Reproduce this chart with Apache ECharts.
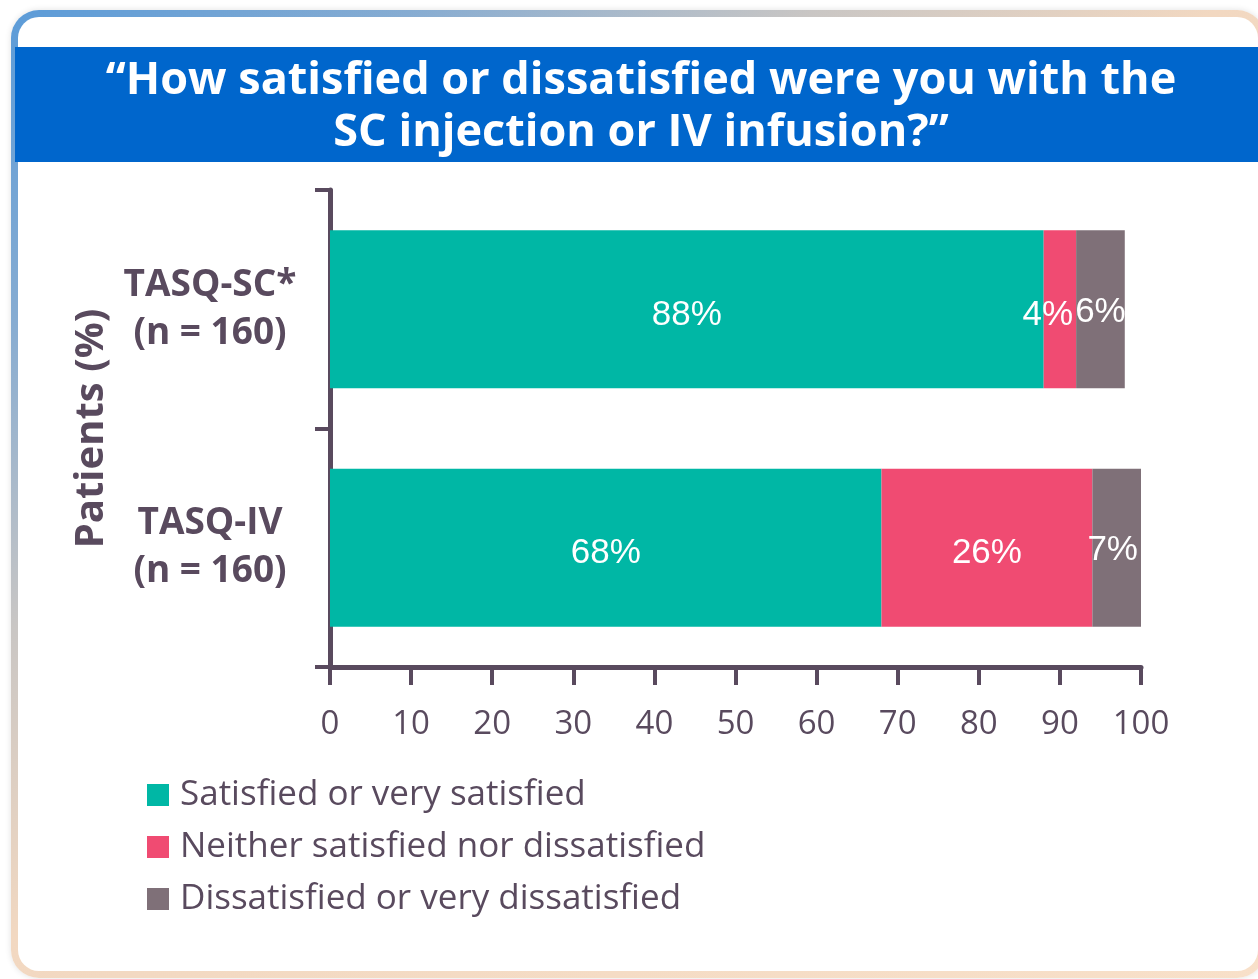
<!DOCTYPE html>
<html>
<head>
<meta charset="utf-8">
<script src="https://cdn.jsdelivr.net/npm/echarts@6/dist/echarts.min.js"></script>
<style>
  html, body { margin: 0; padding: 0; background: #ffffff; width: 1258px; height: 979px; overflow: hidden; }
  #card {
    position: absolute; left: 11px; top: 10px; width: 1240px; height: 954px;
    border: 7px solid transparent; border-radius: 28px;
    background:
      linear-gradient(#ffffff, #ffffff) padding-box,
      linear-gradient(to bottom right, #5b9bd8 0%, #86acd2 16%, #c9c6c4 32%, #f2d8c1 48%, #f8e0c9 100%) border-box;
    box-shadow: 0 0 6px rgba(0,0,0,0.12);
  }
  #chart { position: absolute; left: 0; top: 0; width: 1258px; height: 979px; }
</style>
</head>
<body>
<div id="card"></div>
<div id="chart"></div>
<script>
// ---- data ----
const categories = ['TASQ-SC*\n(n = 160)', 'TASQ-IV\n(n = 160)'];
const seriesNames = ['Satisfied or very satisfied', 'Neither satisfied nor dissatisfied', 'Dissatisfied or very dissatisfied'];
const satisfied = [88, 68];
const neither = [4, 26];
const dissatisfied = [6, 7];
const xTicks = [0, 10, 20, 30, 40, 50, 60, 70, 80, 90, 100];
const titleText = '\u201cHow satisfied or dissatisfied were you with the\nSC injection or IV infusion?\u201d';

// ---- styles ----
const colors = ['#00b7a5', '#f04b72', '#7f7078'];
const ink = '#594a5e';
const sans = "'Open Sans', 'Noto Sans', sans-serif";
const values = [satisfied, neither, dissatisfied];

const chart = echarts.init(document.getElementById('chart'), null, { renderer: 'canvas' });

const series = seriesNames.map((name, si) => ({
  name: name,
  type: 'bar',
  stack: 'total',
  barWidth: 158,
  itemStyle: { color: colors[si] },
  label: {
    show: true,
    position: 'inside',
    color: '#ffffff',
    fontFamily: "'Liberation Sans', Arial, sans-serif",
    fontSize: 35,
    offset: [0, 6],
    formatter: p => p.value + '%'
  },
  data: values[si].map((v, ci) => {
    const item = { value: v };
    if (si === 1 && ci === 0) { item.label = { offset: [-12, 6] }; }
    if (si === 2 && ci === 0) { item.label = { offset: [0, 3] }; }
    if (si === 2 && ci === 1) { item.label = { offset: [-4, 3] }; }
    return item;
  })
}));

const option = {
  backgroundColor: 'transparent',
  animation: false,
  graphic: [{
    type: 'rect',
    shape: { x: 15, y: 47, width: 1243, height: 115 },
    style: { fill: '#0066cc' },
    z: -1
  }],
  title: {
    text: titleText,
    left: 641,
    textAlign: 'center',
    top: 55,
    padding: 0,
    textStyle: {
      color: '#ffffff',
      fontFamily: sans,
      fontWeight: 'bold',
      fontSize: 45,
      lineHeight: 52
    }
  },
  legend: {
    orient: 'vertical',
    left: 147,
    top: 775,
    padding: 0,
    itemWidth: 22,
    itemHeight: 22,
    itemGap: 12,
    icon: 'rect',
    data: seriesNames,
    selectedMode: false,
    textStyle: {
      color: ink,
      fontFamily: sans,
      fontSize: 35,
      lineHeight: 40,
      padding: [0, 0, 0, 6]
    }
  },
  grid: { left: 330, right: 117, top: 190, bottom: 312, containLabel: false },
  xAxis: {
    type: 'value',
    min: 0,
    max: 100,
    interval: 10,
    splitLine: { show: false },
    axisLine: { show: true, lineStyle: { color: ink, width: 5 } },
    axisTick: { show: true, length: 18, lineStyle: { color: ink, width: 4 } },
    axisLabel: {
      color: ink,
      fontFamily: sans,
      fontSize: 33,
      margin: 41,
      formatter: v => (xTicks.indexOf(v) >= 0 ? String(v) : '')
    }
  },
  yAxis: {
    type: 'category',
    inverse: true,
    data: categories,
    name: 'Patients (%)',
    nameLocation: 'middle',
    nameRotate: 90,
    nameGap: 218,
    nameTextStyle: {
      color: ink,
      fontFamily: sans,
      fontWeight: 'bold',
      fontSize: 40
    },
    axisLine: { show: true, lineStyle: { color: ink, width: 5 } },
    axisTick: { show: true, length: 15, lineStyle: { color: ink, width: 4 } },
    axisLabel: {
      color: ink,
      fontFamily: sans,
      fontWeight: 'bold',
      fontSize: 37,
      lineHeight: 48,
      padding: [10, 0, 0, 0],
      align: 'center',
      margin: 120
    }
  },
  series: series
};

chart.setOption(option);
</script>
</body>
</html>
